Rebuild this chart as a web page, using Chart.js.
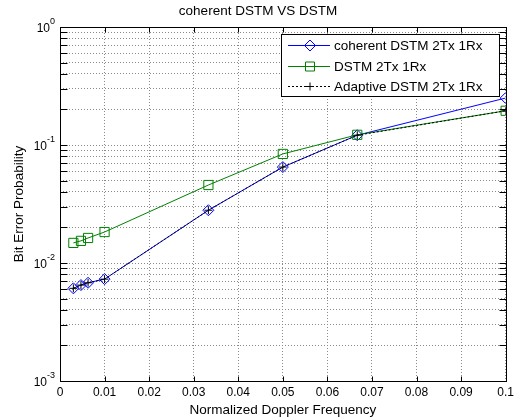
<!DOCTYPE html>
<html>
<head>
<meta charset="utf-8">
<script src="https://cdn.jsdelivr.net/npm/chart.js@4.4.0/dist/chart.umd.min.js"></script>
<style>
	html, body { margin: 0; padding: 0; background: #fff; }
</style>
</head>
<body>
<canvas id="berGraph" width="518" height="420"></canvas>
<script>
const dopplerFreq = [0.003, 0.0047, 0.0063, 0.01, 0.0333, 0.05, 0.0667, 0.1];
const coherentBer = [0.0061, 0.0065, 0.0068, 0.0073, 0.028, 0.065, 0.121, 0.25];
const dstmBer = [0.0148, 0.0154, 0.0163, 0.0183, 0.0458, 0.084, 0.122, 0.195];
const adaptiveBer = [0.0061, 0.0065, 0.0068, 0.0073, 0.028, 0.065, 0.121, 0.195];
const seriesNames = ['coherent DSTM 2Tx 1Rx', 'DSTM 2Tx 1Rx', 'Adaptive DSTM 2Tx 1Rx'];
const xTickValues = [0, 0.01, 0.02, 0.03, 0.04, 0.05, 0.06, 0.07, 0.08, 0.09, 0.1];
const yDecades = [-3, -2, -1, 0];

const FONT = "'Liberation Sans', Arial, sans-serif";
const BLUE = 'rgb(0,0,255)';
const GREEN = 'rgb(0,128,0)';
const BLACK = '#000';

function toPoints(ys) {
	return dopplerFreq.map((f, i) => ({ x: f, y: ys[i] }));
}

// markers for the legend box
function drawMarker(ctx, style, x, y, color) {
	ctx.strokeStyle = color;
	ctx.lineWidth = 1;
	ctx.beginPath();
	if (style === 'rectRot') {
		ctx.moveTo(x, y - 5.5); ctx.lineTo(x + 5.5, y); ctx.lineTo(x, y + 5.5); ctx.lineTo(x - 5.5, y); ctx.closePath();
	} else if (style === 'rect') {
		ctx.rect(x - 4.5, y - 4.5, 9, 9);
	} else {
		ctx.moveTo(x - 4, y); ctx.lineTo(x + 4, y);
		ctx.moveTo(x, y - 4); ctx.lineTo(x, y + 4);
	}
	ctx.stroke();
}

const matlabAxes = {
	id: 'matlabAxes',
	afterDraw(chart) {
		const { ctx, chartArea: a, scales: { x, y } } = chart;
		const L = Math.round(a.left) + 0.5, R = Math.round(a.right) + 0.5;
		const T = Math.round(a.top) + 0.5, B = Math.round(a.bottom) + 0.5;
		ctx.save();
		ctx.strokeStyle = '#000';
		ctx.lineWidth = 1;
		ctx.setLineDash([]);
		ctx.strokeRect(L, T, R - L, B - T);

		// inward tick marks on all four sides
		ctx.beginPath();
		y.ticks.forEach(t => {
			const py = Math.round(y.getPixelForValue(t.value)) + 0.5;
			ctx.moveTo(L, py); ctx.lineTo(L + 7, py);
			ctx.moveTo(R, py); ctx.lineTo(R - 7, py);
		});
		x.ticks.forEach(t => {
			const px = Math.round(x.getPixelForValue(t.value)) + 0.5;
			ctx.moveTo(px, B); ctx.lineTo(px, B - 5);
			ctx.moveTo(px, T); ctx.lineTo(px, T + 5);
		});
		ctx.stroke();

		// y labels 10^n
		ctx.fillStyle = '#000';
		ctx.textBaseline = 'middle';
		ctx.textAlign = 'right';
		yDecades.forEach(d => {
			const py = y.getPixelForValue(Math.pow(10, d));
			const exp = String(d);
			ctx.font = '9px ' + FONT;
			const ew = ctx.measureText(exp).width;
			ctx.fillText(exp, 55, py - 5);
			ctx.font = '12px ' + FONT;
			ctx.fillText('10', 55 - ew, py + 2);
		});

		// legend box inside the plot
		const lx = 281.5, ly = 34.5, lw = 218, lh = 62;
		ctx.fillStyle = '#fff';
		ctx.fillRect(lx, ly, lw, lh);
		ctx.strokeRect(lx, ly, lw, lh);
		const rows = [45, 66, 86];
		chart.data.datasets.forEach((ds, i) => {
			const ry = rows[i] + 0.5;
			ctx.strokeStyle = ds.borderColor;
			ctx.setLineDash(ds.borderDash || []);
			ctx.beginPath();
			ctx.moveTo(288, ry); ctx.lineTo(330, ry);
			ctx.stroke();
			ctx.setLineDash([]);
			drawMarker(ctx, ds.pointStyle, 310, ry, ds.borderColor);
			ctx.fillStyle = '#000';
			ctx.font = '13.5px ' + FONT;
			ctx.textAlign = 'left';
			ctx.fillText(ds.label, 334, rows[i] + 1);
		});
		ctx.restore();
	}
};

let berGraph = document.getElementById('berGraph');

new Chart(berGraph, {
	type: 'line',
	data: {
		datasets: [{
			label: seriesNames[0],
			data: toPoints(coherentBer),
			borderColor: BLUE,
			pointStyle: 'rectRot',
			pointRadius: 5.5,
			order: 2
		}, {
			label: seriesNames[1],
			data: toPoints(dstmBer),
			borderColor: GREEN,
			pointStyle: 'rect',
			pointRadius: 6.5,
			order: 1
		}, {
			label: seriesNames[2],
			data: toPoints(adaptiveBer),
			borderColor: BLACK,
			borderDash: [2, 2],
			pointStyle: 'cross',
			pointRadius: 4,
			order: 0
		}]
	},
	options: {
		responsive: false,
		animation: false,
		layout: { padding: { left: 9, right: 11, top: 0, bottom: 0 } },
		elements: {
			line: { borderWidth: 1, tension: 0 },
			point: { borderWidth: 1, backgroundColor: 'rgba(0,0,0,0)' }
		},
		datasets: { line: { pointBackgroundColor: 'rgba(0,0,0,0)', pointBorderWidth: 1 } },
		plugins: {
			legend: { display: false },
			tooltip: { enabled: false },
			title: {
				display: true,
				text: 'coherent DSTM VS DSTM',
				color: '#000',
				font: { family: FONT, size: 13.5, weight: 'normal', lineHeight: 1.2 },
				padding: { top: 3.5, bottom: 7.3 }
			}
		},
		scales: {
			x: {
				type: 'linear',
				min: 0,
				max: 0.1,
				afterBuildTicks: s => { s.ticks = xTickValues.map(v => ({ value: v })); },
				afterFit: s => { s.height = 39; },
				grid: { color: '#8a8a8a', lineWidth: 1, drawTicks: false },
				border: { display: false, dash: [1, 2] },
				ticks: {
					autoSkip: false,
					maxRotation: 0,
					padding: 4,
					color: '#000',
					font: { family: FONT, size: 12 },
					callback: v => String(+v.toFixed(2))
				},
				title: {
					display: true,
					text: 'Normalized Doppler Frequency',
					color: '#000',
					font: { family: FONT, size: 13.5 },
					padding: { top: 0, bottom: 2 }
				}
			},
			y: {
				type: 'logarithmic',
				min: 0.001,
				max: 1,
				afterBuildTicks: s => {
					const t = [];
					for (let d = -3; d < 0; d++) {
						for (let m = 1; m <= 9; m++) t.push({ value: m * Math.pow(10, d) });
					}
					t.push({ value: 1 });
					s.ticks = t;
				},
				afterFit: s => { s.width = 51; },
				grid: { color: '#8a8a8a', lineWidth: 1, drawTicks: false },
				border: { display: false, dash: [1, 2] },
				ticks: { display: false },
				title: {
					display: true,
					text: 'Bit Error Probability',
					color: '#000',
					font: { family: FONT, size: 13.5 },
					padding: { top: 2, bottom: 0 }
				}
			}
		}
	},
	plugins: [matlabAxes]
});
</script>
</body>
</html>
